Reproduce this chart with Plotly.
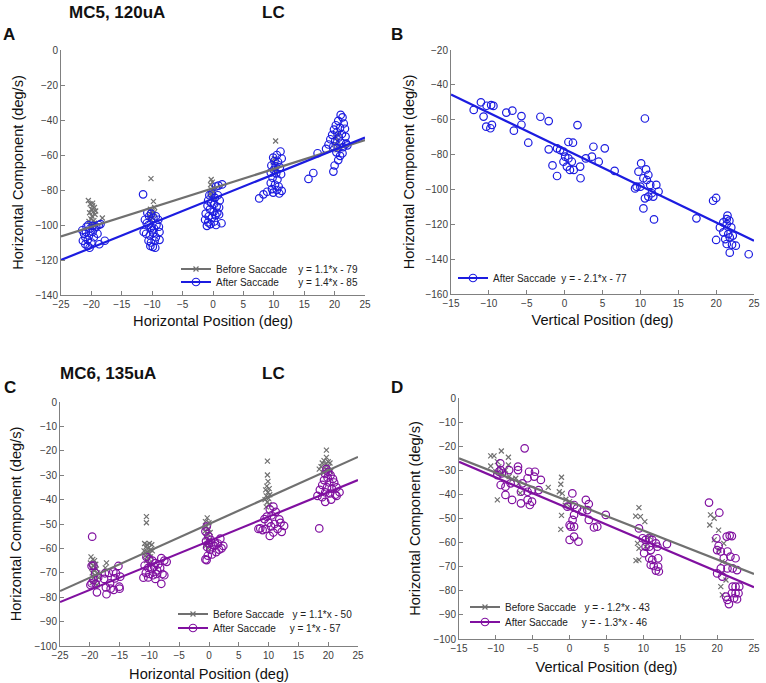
import plotly.graph_objects as go

# ---------------- DATA ----------------
# Panel A (MC5, horizontal position)
A_before_x = [-20.5,-20.2,-19.8,-19.5,-20.0,-19.7,-20.3,-19.4,-19.9,-20.1,-19.6,-19.3,-20.4,-18.2,-19.8,-20.0,-19.5,
              -10.2,-9.8,-10.3,-10.0,-9.7,-10.1,-10.4,-9.9,-10.2,-9.6,
              -0.3,-0.1,-0.4,0.0,-0.2,-0.5,0.1,-0.3,0.2,
              10.3,10.1,9.9,10.4,10.0,10.2,
              20.2,20.5,20.0,20.8,20.4,20.6]
A_before_y = [-86,-88,-87.5,-90,-91,-92.5,-93,-94,-95,-96.5,-97.5,-92,-98,-96,-89,-100,-99,
              -73.5,-86.5,-91,-92.5,-93,-94.5,-95,-96,-97,-90,
              -74,-75.5,-77,-78.5,-80,-82,-81,-83.5,-85,
              -52,-62,-64,-66,-68,-70,
              -50,-52,-54,-55,-57,-48]
A_after_x = [-21.5,-21.2,-20.8,-20.5,-20.2,-19.8,-19.5,-21.0,-20.6,-21.4,-21.0,-20.6,-20.3,-20.0,-19.8,-19.2,-18.8,-18.5,-19.0,-18.7,-17.8,-20.4,-20.9,-19.6,
             -11.5,-10.8,-10.5,-10.2,-9.8,-9.4,-9.0,-11.2,-10.9,-10.6,-10.2,-9.7,-9.3,-8.9,-11.4,-11.0,-10.4,-9.8,-9.4,-8.8,-10.6,-10.2,-9.6,-8.8,-10.3,-9.9,-9.5,-10.0,
             1.5,0.9,0.5,-0.6,-0.2,0.3,0.8,1.1,-0.8,-0.3,0.2,0.6,1.0,-0.9,-0.5,0.1,0.7,-1.2,-0.7,-0.2,0.4,1.0,-1.3,-0.8,-0.4,0.2,-1.0,0.5,1.4,
             11.1,10.5,9.9,11.3,10.1,10.7,9.6,10.3,11.0,10.0,9.5,10.4,11.2,9.8,10.6,9.5,10.2,10.8,9.7,10.5,11.3,8.9,9.9,8.3,7.6,10.9,
             15.7,16.5,17.2,19.8,
             21.0,21.3,20.6,21.5,20.2,20.9,21.7,19.9,20.4,21.2,19.6,20.7,21.8,19.3,20.1,21.0,21.9,19.0,19.8,20.5,21.4,22.1,18.6,20.3,21.3,20.6,20.0,20.9]
A_after_y = [-103,-105,-101,-100,-102,-100.5,-102,-107,-108.5,-109,-111,-112,-113,-110,-104,-101,-100,-99.5,-105,-111,-109,-106,-104,-107,
             -82.5,-93,-95,-93.5,-96,-95,-97,-97,-99,-100,-101.5,-102,-100,-101,-104,-105,-106,-104.5,-107,-104,-109,-110,-109,-108.5,-112,-112.5,-113,-103,
             -76.8,-77.5,-78,-83,-82,-84.5,-83,-86,-86,-87.5,-88,-89.5,-90,-89,-91,-92.5,-93,-93.5,-95,-96,-94.5,-94,-97,-98.5,-99.5,-98,-100.5,-100,-99,
             -58,-60,-61.5,-62,-63.5,-64,-66,-66.5,-67,-68.5,-70,-70.5,-71,-73,-74,-76,-77,-78,-79.5,-80,-80.5,-81,-81.5,-82.5,-84.8,-82,
             -73.7,-70.3,-59,-69.5,
             -37.1,-38.5,-40.5,-42,-43,-44.5,-45,-45.5,-47,-48,-48.5,-50,-49.5,-51,-52,-53,-53.5,-54,-55,-56,-55.5,-54.5,-56.5,-58.5,-59,-62.9,-66,-60.5]

# Panel B (MC5, vertical position)
B_after_x = [-12.0,-11.05,-10.7,-10.35,-9.8,-9.6,-10.3,-9.7,-9.4,-7.7,-6.9,-6.7,-5.7,-5.7,-4.8,-3.2,-2.1,-2.1,-1.6,-1.0,
             1.7,0.5,1.1,-1.0,-0.6,-0.15,0.07,0.5,0.95,-0.15,0.3,1.2,2.05,2.1,2.8,3.6,3.8,4.5,5.3,6.6,0.7,
             10.1,9.75,10.75,10.6,9.3,10.0,10.4,10.85,11.05,11.3,11.5,11.05,10.6,11.7,12.1,12.4,10.4,11.8,9.5,
             17.4,19.6,20.0,20.0,20.5,20.95,21.5,21.75,21.4,20.95,21.6,21.8,22.2,21.2,21.4,22.1,22.6,21.8,24.3,21.4,22.0]
B_after_y = [-54.4,-50.0,-58.2,-64.0,-64.9,-63.0,-52.0,-51.6,-52.1,-55.9,-54.8,-66.3,-57.9,-62.9,-73.2,-58.3,-60.8,-77.0,-86.2,-92.3,
             -63.1,-72.8,-73.2,-76.4,-77.4,-78.3,-81.2,-82.2,-84.1,-84.1,-86.9,-88.8,-86.9,-93.6,-82.2,-81.2,-75.5,-84.1,-76.4,-89.4,-88.8,
             -85.0,-89.8,-88.5,-59.3,-99.4,-98.4,-93.6,-94.6,-91.7,-97.4,-102.2,-104.1,-105.1,-104.1,-97.4,-101.2,-110.9,-117.2,-98.4,
             -116.6,-106.5,-104.9,-129.0,-121.8,-118.9,-115.0,-117.9,-119.9,-124.6,-125.6,-127.5,-126.5,-128.5,-131.3,-131.7,-132.3,-136.3,-137.2,-117.0,-121.8]

# Panel C (MC6, horizontal position)
C_before_x = [-19.8,-19.5,-19.2,-19.9,-19.4,-19.0,-19.7,-19.3,-18.9,-19.6,-19.1,-18.7,-19.4,-18.9,-19.6,-18.5,-17.2,-17.4,-18.8,
              -10.5,-10.5,-10.8,-10.4,-10.0,-9.6,-10.6,-10.2,-9.8,-10.9,-10.4,-10.0,-9.5,-10.7,-10.2,-9.8,-10.5,-10.0,
              -0.3,-0.6,0.0,-0.4,-0.1,-0.7,-0.2,0.2,-0.5,0.0,-0.3,0.3,-0.6,-0.1,
              9.8,9.8,9.9,9.7,10.1,9.5,9.9,10.2,9.6,10.0,9.4,9.8,10.1,9.6,
              19.7,19.7,19.3,20.0,19.0,19.6,20.3,18.8,19.4,20.1,19.8,18.5,20.4,19.2]
C_before_y = [-63.5,-64.5,-65,-66,-67,-66.5,-68,-69,-68.5,-70,-71,-70,-72,-73,-74,-72,-65.9,-68,-75,
              -47,-49.5,-58,-58.5,-58,-58.5,-59.5,-60,-60.5,-61,-61.5,-62,-61,-63,-64,-63.5,-65,-66,
              -47.5,-49,-49.5,-51,-52,-53,-54,-53.5,-55.5,-56.5,-58,-57,-59,-60,
              -24.2,-29.9,-32.5,-34.5,-35.5,-36,-37,-38,-38.5,-39.5,-40,-41,-42,-43,
              -19.7,-22.7,-24,-24.5,-25,-25.5,-25,-26.5,-27,-26.5,-28,-27.5,-28.5,-29]
C_after_x = [-19.6,-19.7,-19.4,-19.1,-19.4,-19.7,-19.9,-19.0,-18.6,-18.8,-17.45,-17.6,-17.3,-17.2,-16.6,-16.05,-15.6,-15.2,-14.9,-15.8,-15.05,-16.0,-15.0,-16.5,-16.8,
             -10.5,-10.0,-9.5,-9.0,-8.5,-8.0,-7.5,-7.1,-10.8,-10.2,-9.6,-9.2,-8.7,-8.2,-10.6,-10.0,-9.4,-8.8,-7.8,-11.0,-9.0,-8.0,-10.2,-7.5,
             -0.4,-0.6,-0.1,0.3,-0.5,0.0,0.6,-0.3,0.2,0.9,1.5,1.9,2.1,1.7,1.2,0.5,-0.2,-0.6,-0.4,1.0,2.4,
             10.8,10.2,11.2,9.7,10.5,11.8,9.3,10.0,11.0,12.0,8.6,9.5,10.4,11.5,12.6,12.2,10.2,9.0,10.8,8.3,
             19.7,20.0,19.5,20.4,19.9,20.8,19.3,20.2,21.0,19.0,19.8,20.6,21.4,18.6,19.5,20.3,21.2,18.2,19.0,21.4,19.5,20.5,21.9,18.5]
C_after_y = [-55.2,-67.2,-67,-70,-72.9,-74.3,-75,-74.5,-72,-78,-70.2,-72.5,-76,-78.8,-74.3,-69.5,-70.2,-67.2,-71.6,-72.3,-75.7,-77,-76.5,-76.5,-70,
             -63.5,-64.5,-65,-66,-66.5,-64,-65,-65.5,-67,-68,-68.5,-67.5,-69,-68,-70,-70.5,-71,-70.5,-70.5,-72,-72.5,-74.5,-71.9,-71,
             -51.1,-53,-55,-56.5,-57,-58,-58.5,-59.5,-60.5,-59,-58,-56,-60,-60.5,-61.5,-62.5,-63,-64.5,-64.8,-57.5,-59,
             -42.9,-44,-45,-47,-46.5,-48.1,-48,-49.5,-50,-49.5,-51.8,-52,-51,-52,-50.8,-53.2,-54.9,-52.5,-53.5,-52,
             -27.5,-28.6,-29.5,-30,-31,-31.5,-32,-33,-33,-34,-35,-35.5,-35,-36,-37,-37.5,-38,-38.5,-39,-38.5,-40.9,-40,-37,-51.8]

# Panel D (MC6, vertical position)
D_before_x = [-10.7,-10.25,-9.26,-8.3,-9.8,-8.3,-9.6,-10.0,-9.1,-8.2,-7.8,-7.3,-9.8,-10.7,-8.7,-6.9,-2.9,-6.7,
              -1.1,-1.2,-1.4,-1.0,-0.5,-0.6,-1.1,-1.2,0.0,0.0,
              9.4,8.95,9.6,10.2,9.2,9.4,9.0,9.4,10.8,10.3,
              19.1,19.6,19.0,20.2,19.6,20.25,20.7,20.9,20.7,21.2,20.7,20.5]
D_before_y = [-24.0,-24.0,-22.0,-24.6,-26.4,-27.8,-28.5,-30.6,-31.3,-32.6,-33.7,-33.3,-42.3,-28.2,-29.9,-35.4,-37.1,-39.5,
              -32.9,-35.8,-38.9,-39.6,-42.0,-44.5,-48.7,-54.5,-43.0,-45.1,
              -45.5,-49.0,-49.2,-51.3,-60.3,-62.4,-67.5,-67.2,-57.5,-61.7,
              -48.5,-49.9,-52.7,-54.8,-58.9,-63.1,-67.9,-60.3,-72.8,-75.5,-81.7,-78.3]
D_after_x = [-6.1,-9.4,-9.6,-9.2,-8.2,-7.0,-7.0,-5.5,-4.7,-3.9,-4.8,-5.7,-6.4,-9.35,-8.7,-8.0,-6.6,-5.7,-5.1,-4.2,-8.7,-7.8,-6.6,-5.7,-5.4,-5.1,-9.8,-9.35,
             0.37,2.2,2.6,0.6,-0.3,1.0,0.6,0.4,0.0,0.6,0.14,0.6,0.0,1.2,2.6,3.3,3.75,4.9,2.4,1.7,
             9.4,9.9,10.3,10.8,11.2,11.7,11.9,10.3,11.0,10.1,10.8,11.2,11.0,11.4,12.0,11.7,12.1,12.0,13.2,10.8,
             18.9,20.3,19.9,20.2,20.0,20.5,21.3,21.7,22.0,21.4,21.8,22.5,20.9,20.5,20.0,20.7,21.4,22.1,22.7,22.1,22.5,23.0,22.0,22.5,22.9,22.3,22.7,21.4,21.6,21.2]
D_after_y = [-20.9,-27.1,-30.6,-31.3,-29.9,-28.5,-29.9,-30.6,-30.6,-34.0,-32.6,-33.3,-35.4,-36.1,-36.8,-35.4,-38.9,-38.9,-38.2,-38.2,-40.2,-42.3,-43.7,-42.3,-44.4,-43.0,-32.0,-29.9,
             -39.6,-42.3,-44.0,-44.4,-45.1,-45.8,-48.5,-50.6,-52.7,-53.4,-53.4,-57.5,-58.9,-59.6,-50.6,-53.7,-53.4,-48.5,-46.5,-47.2,
             -54.1,-58.2,-58.9,-58.2,-58.9,-60.3,-61.7,-61.7,-63.1,-64.4,-66.5,-67.2,-69.3,-69.7,-66.5,-71.6,-72.0,-70.0,-60.6,-61.7,
             -43.4,-47.6,-58.2,-61.4,-63.1,-63.7,-57.5,-57.1,-57.3,-63.7,-65.8,-66.5,-66.5,-70.7,-72.8,-74.1,-70.7,-70.7,-71.4,-78.3,-78.3,-78.3,-81.0,-81.0,-81.0,-83.1,-83.5,-83.8,-85.5,-82.4]

# Linear fits (slope, intercept) as printed in the legends
A_fit_before = (1.1, -79)
A_fit_after = (1.4, -85)
B_fit_after = (-2.1, -77)
C_fit_before = (1.1, -50)
C_fit_after = (1.0, -57)
D_fit_before = (-1.2, -43)
D_fit_after = (-1.3, -46)

A_x_ticks = [-25, -20, -15, -10, -5, 0, 5, 10, 15, 20, 25]
B_x_ticks = [-15, -10, -5, 0, 5, 10, 15, 20, 25]
A_y_ticks = [-140, -120, -100, -80, -60, -40, -20, 0]
B_y_ticks = [-160, -140, -120, -100, -80, -60, -40, -20]
C_y_ticks = [-100, -90, -80, -70, -60, -50, -40, -30, -20, -10, 0]

# ---------------- STYLE ----------------
FONT = "Liberation Sans, Arial, sans-serif"
GRAY = "#707070"
BLUE = "#1c1ce0"
PURPLE = "#8010a0"
NB = "\u00a0"
W, H = 766, 683


def px(v):
    return v / W


def py(v):
    return 1 - v / H


fig = go.Figure()

X_MARK = dict(symbol="x-thin-open", size=5, color=GRAY, line=dict(color=GRAY, width=1.2))


def O_MARK(c):
    return dict(symbol="circle-open", size=7.5, color=c, line=dict(color=c, width=1.2))


def fit_line(xr, coef):
    return [xr[0], xr[1]], [coef[0] * xr[0] + coef[1], coef[0] * xr[1] + coef[1]]


def add_panel(n, xr, before, after, fit_b, fit_a, color):
    xa = "x" if n == 1 else f"x{n}"
    ya = "y" if n == 1 else f"y{n}"
    if before is not None:
        fig.add_trace(go.Scatter(x=before[0], y=before[1], mode="markers", xaxis=xa, yaxis=ya,
                                 marker=X_MARK, showlegend=False, hoverinfo="skip"))
    fig.add_trace(go.Scatter(x=after[0], y=after[1], mode="markers", xaxis=xa, yaxis=ya,
                             marker=O_MARK(color), showlegend=False, hoverinfo="skip"))
    if fit_b is not None:
        lx, ly = fit_line(xr, fit_b)
        fig.add_trace(go.Scatter(x=lx, y=ly, mode="lines", xaxis=xa, yaxis=ya,
                                 line=dict(color=GRAY, width=2.2), showlegend=False, hoverinfo="skip"))
    lx, ly = fit_line(xr, fit_a)
    fig.add_trace(go.Scatter(x=lx, y=ly, mode="lines", xaxis=xa, yaxis=ya,
                             line=dict(color=color, width=2.2), showlegend=False, hoverinfo="skip"))


def add_legend_item(n, name, color, marker, legend):
    xa = "x" if n == 1 else f"x{n}"
    ya = "y" if n == 1 else f"y{n}"
    fig.add_trace(go.Scatter(x=[None], y=[None], mode="lines+markers", xaxis=xa, yaxis=ya, name=name,
                             line=dict(color=color, width=2.2), marker=marker, legend=legend))


add_panel(1, [-25, 25], (A_before_x, A_before_y), (A_after_x, A_after_y), A_fit_before, A_fit_after, BLUE)
add_panel(2, [-15, 25], None, (B_after_x, B_after_y), None, B_fit_after, BLUE)
add_panel(3, [-25, 25], (C_before_x, C_before_y), (C_after_x, C_after_y), C_fit_before, C_fit_after, PURPLE)
add_panel(4, [-15, 25], (D_before_x, D_before_y), (D_after_x, D_after_y), D_fit_before, D_fit_after, PURPLE)

legend_items = [
    # panel, text, colour, marker, legend id, line-start x px, centre y px
    (1, f"Before Saccade{NB*4}y = 1.1*x - 79", GRAY, X_MARK, "legend", 186, 269),
    (1, f"After Saccade{NB*7}y = 1.4*x - 85", BLUE, O_MARK(BLUE), "legend2", 186, 282),
    (2, f"After Saccade{NB*2}y = - 2.1*x - 77", BLUE, O_MARK(BLUE), "legend3", 463, 278),
    (3, f"Before Saccade{NB*3}y = 1.1*x - 50", GRAY, X_MARK, "legend4", 183, 614),
    (3, f"After Saccade{NB*5}y = 1*x - 57", PURPLE, O_MARK(PURPLE), "legend5", 183, 628),
    (4, f"Before Saccade{NB*3}y = - 1.2*x - 43", GRAY, X_MARK, "legend6", 475, 607),
    (4, f"After Saccade{NB*5}y = - 1.3*x - 46", PURPLE, O_MARK(PURPLE), "legend7", 475, 622),
]
leg_common = dict(bgcolor="rgba(0,0,0,0)", borderwidth=0, font=dict(family=FONT, size=10, color="#222"),
                  itemwidth=30, tracegroupgap=0, xanchor="left", yanchor="middle", itemclick=False,
                  itemdoubleclick=False)
legend_layout = {}
for n, text, c, m, lid, lx0, ly0 in legend_items:
    add_legend_item(n, text, c, m, lid)
    legend_layout[lid] = dict(x=px(lx0 - 10), y=py(ly0), **leg_common)

axis_common = dict(showline=True, linecolor="#808080", linewidth=1, ticks="inside", ticklen=4,
                   tickcolor="#808080", showgrid=False, zeroline=False, mirror=False, automargin=False,
                   tickfont=dict(family=FONT, size=10, color="#404040"),
                   title_font=dict(family=FONT, size=14.6, color="#111"), fixedrange=True)

fig.update_layout(
    width=W, height=H, margin=dict(l=0, r=0, t=0, b=0, autoexpand=False),
    paper_bgcolor="white", plot_bgcolor="white", showlegend=True,
    font=dict(family=FONT),
    xaxis=dict(domain=[px(61), px(365)], range=[-25, 25], tickvals=A_x_ticks, anchor="y",
               title=dict(text="Horizontal Position (deg)", standoff=6), **axis_common),
    yaxis=dict(domain=[py(295), py(50)], range=[-140, 0], tickvals=A_y_ticks, anchor="x",
               title=dict(text="Horizontal Component (deg/s)", standoff=8), **axis_common),
    xaxis2=dict(domain=[px(451), px(754)], range=[-15, 25], tickvals=B_x_ticks, anchor="y2",
                title=dict(text="Vertical Position (deg)", standoff=6), **axis_common),
    yaxis2=dict(domain=[py(294), py(50)], range=[-160, -20], tickvals=B_y_ticks, anchor="x2",
                title=dict(text="Horizontal Component (deg/s)", standoff=7), **axis_common),
    xaxis3=dict(domain=[px(60), px(358)], range=[-25, 25], tickvals=A_x_ticks, anchor="y3",
                title=dict(text="Horizontal Position (deg)", standoff=8), **axis_common),
    yaxis3=dict(domain=[py(646), py(402)], range=[-100, 0], tickvals=C_y_ticks, anchor="x3",
                title=dict(text="Horizontal Component (deg/s)", standoff=9), **axis_common),
    xaxis4=dict(domain=[px(459), px(754)], range=[-15, 25], tickvals=B_x_ticks, anchor="y4",
                title=dict(text="Vertical Position (deg)", standoff=8), **axis_common),
    yaxis4=dict(domain=[py(639), py(398)], range=[-100, 0], tickvals=C_y_ticks, anchor="x4",
                title=dict(text="Horizontal Component (deg/s)", standoff=9), **axis_common),
    **legend_layout,
)

ann = []
for text, x, y, size in [("MC5, 120uA", 117, 12, 17), ("LC", 273, 12, 17),
                         ("MC6, 135uA", 108, 373, 17), ("LC", 273, 373, 17),
                         ("A", 9, 35, 17), ("B", 397, 35, 17), ("C", 10, 387, 17), ("D", 397, 387, 17)]:
    ann.append(dict(text=f"<b>{text}</b>", x=px(x), y=py(y), xref="paper", yref="paper",
                    showarrow=False, xanchor="center", yanchor="middle",
                    font=dict(family=FONT, size=size, color="#111")))
fig.update_layout(annotations=ann)

fig.write_html("out.html", config={"displayModeBar": False},
               post_script="document.body.style.margin='0';document.body.style.overflow='hidden';")
